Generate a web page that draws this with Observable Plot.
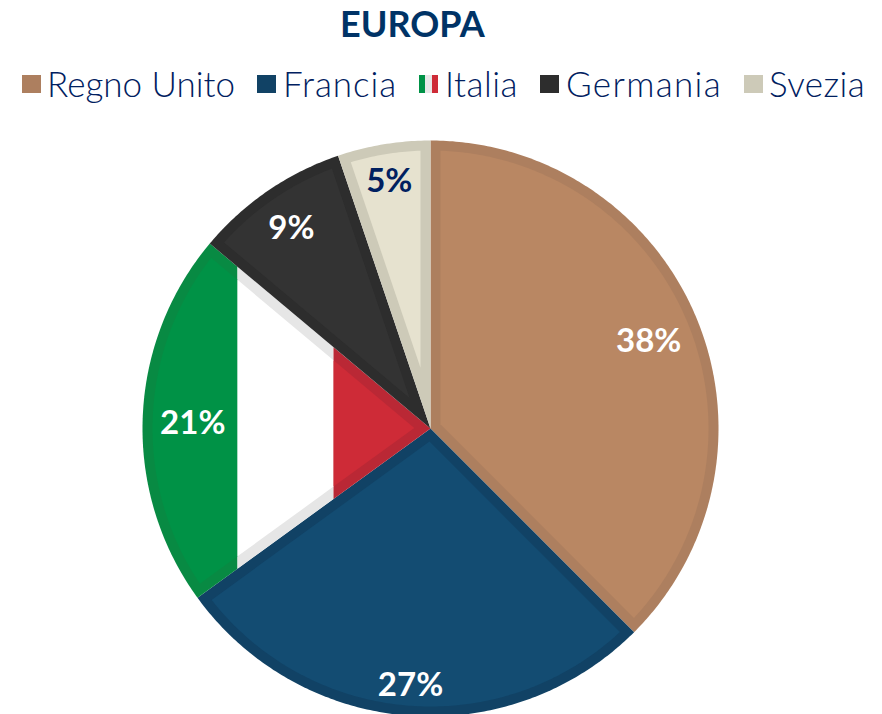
<!DOCTYPE html>
<html>
<head>
<meta charset="utf-8">
<script src="https://cdn.jsdelivr.net/npm/d3@7"></script>
<script src="https://cdn.jsdelivr.net/npm/@observablehq/plot@0.6"></script>
<style>
html,body{margin:0;padding:0;background:#fff;overflow:hidden;width:882px;height:714px}
#title{position:relative;height:48px}
#title span{position:absolute;left:340px;top:-1px;width:144px;text-align:center;white-space:nowrap;font:700 36px/48px Lato,sans-serif;color:#003366}
#legend{position:relative;height:77px;font:300 35px Lato,sans-serif;color:#002060}
.sw{position:absolute;top:27px;width:19px;height:18px}
.lb{position:absolute;top:15px;line-height:40px;white-space:nowrap}
svg{display:block}
</style>
</head>
<body>
<div id="title"><span>EUROPA</span></div>
<div id="legend"></div>
<div id="chart"></div>
<script>
const categories = ["Regno Unito", "Francia", "Italia", "Germania", "Svezia"];
const shares = [37.5, 27.5, 21.1, 8.7, 5.2];
const labels = ["38%", "27%", "21%", "9%", "5%"];
const fills = ["#b98763", "#134c72", "#ffffff", "#333333", "#e6e2cf"];
const borders = ["#ad7f5f", "#114265", "#e6e6e6", "#2d2d2d", "#cdcab8"];
const labelColors = ["#ffffff", "#ffffff", "#ffffff", "#ffffff", "#002060"];
const flagFills = ["#009246", "#ffffff", "#ce2b37"];
const flagBorders = ["#088a43", "#e6e6e6", "#ba2835"];

// layout
const R = 288, inset = 10;
const flagCuts = [-193 / R, -97 / R];
const labelRadius = [0.82, 0.885, 0.826, 0.855, 0.88];
const legendX = [[22, 47], [257, 283], [419, 445], [540, 566], [744, 769]];
const legendW = [188, 114, 73, 156, 96];

const total = d3.sum(shares);
const slices = [];
let acc = 0;
shares.forEach((v, i) => {
  const a0 = acc / total * 2 * Math.PI;
  acc += v;
  const a1 = acc / total * 2 * Math.PI;
  slices.push({i, a0, a1});
});

function arcPts(a0, a1, r, apex) {
  const n = Math.max(2, Math.ceil((a1 - a0) * 90));
  const pts = [apex];
  for (let k = 0; k <= n; k++) {
    const a = a0 + (a1 - a0) * k / n;
    pts.push([r * Math.sin(a), r * Math.cos(a)]);
  }
  return pts;
}
function outer(s) { return arcPts(s.a0, s.a1, 1, [0, 0]); }
function inner(s) {
  const d = inset / R, half = (s.a1 - s.a0) / 2, mid = (s.a0 + s.a1) / 2;
  const ri = 1 - d, off = Math.asin(d / ri), ad = d / Math.sin(half);
  return arcPts(s.a0 + off, s.a1 - off, ri, [ad * Math.sin(mid), ad * Math.cos(mid)]);
}
function clipX(poly, lo, hi) {
  const clip = (pts, inside, cut) => {
    const out = [];
    pts.forEach((p, i) => {
      const q = pts[(i + 1) % pts.length];
      if (inside(p)) out.push(p);
      if (inside(p) !== inside(q)) {
        const t = (cut - p[0]) / (q[0] - p[0]);
        out.push([cut, p[1] + t * (q[1] - p[1])]);
      }
    });
    return out;
  };
  let r = poly;
  if (lo > -Infinity) r = clip(r, p => p[0] >= lo, lo);
  if (hi < Infinity) r = clip(r, p => p[0] <= hi, hi);
  return r;
}

const rows = [];
function add(poly, key, color) {
  poly.forEach(p => rows.push({x: p[0], y: p[1], key, color}));
}
const bands = [[-Infinity, flagCuts[0]], [flagCuts[0], flagCuts[1]], [flagCuts[1], Infinity]];
slices.forEach(s => {
  if (categories[s.i] === "Italia") {
    bands.forEach((b, j) => add(clipX(outer(s), b[0], b[1]), "b" + s.i + j, flagBorders[j]));
    bands.forEach((b, j) => add(clipX(inner(s), b[0], b[1]), "f" + s.i + j, flagFills[j]));
  } else {
    add(outer(s), "b" + s.i, borders[s.i]);
    add(inner(s), "f" + s.i, fills[s.i]);
  }
});

const labelRows = slices.map(s => {
  const m = (s.a0 + s.a1) / 2, r = labelRadius[s.i];
  return {x: r * Math.sin(m), y: r * Math.cos(m), text: labels[s.i], color: labelColors[s.i]};
});

const plot = Plot.plot({
  width: 882, height: 591,
  marginLeft: 142, marginRight: 164, marginTop: 15, marginBottom: 0,
  x: {domain: [-1, 1], axis: null},
  y: {domain: [-1, 1], axis: null},
  color: {type: "identity"},
  marks: [
    Plot.line(rows, {x: "x", y: "y", z: "key", fill: "color", stroke: null, curve: "linear"}),
    Plot.text(labelRows, {x: "x", y: "y", text: "text", fill: "color", dy: 3,
      fontSize: 33, fontWeight: 700, fontFamily: "Lato, sans-serif"})
  ]
});
document.getElementById("chart").appendChild(plot);

const legend = document.getElementById("legend");
categories.forEach((c, i) => {
  const sw = document.createElement("div");
  sw.className = "sw";
  sw.style.left = legendX[i][0] + "px";
  sw.style.background = c === "Italia"
    ? `linear-gradient(90deg,${flagFills[0]} 33%,#e8e8e8 33% 66%,${flagFills[2]} 66%)`
    : borders[i];
  const lb = document.createElement("div");
  lb.className = "lb";
  lb.style.left = legendX[i][1] + "px";
  lb.textContent = c;
  legend.append(sw, lb);
  const w = lb.getBoundingClientRect().width;
  lb.style.letterSpacing = ((legendW[i] - w) / c.length) + "px";
});
</script>
</body>
</html>
